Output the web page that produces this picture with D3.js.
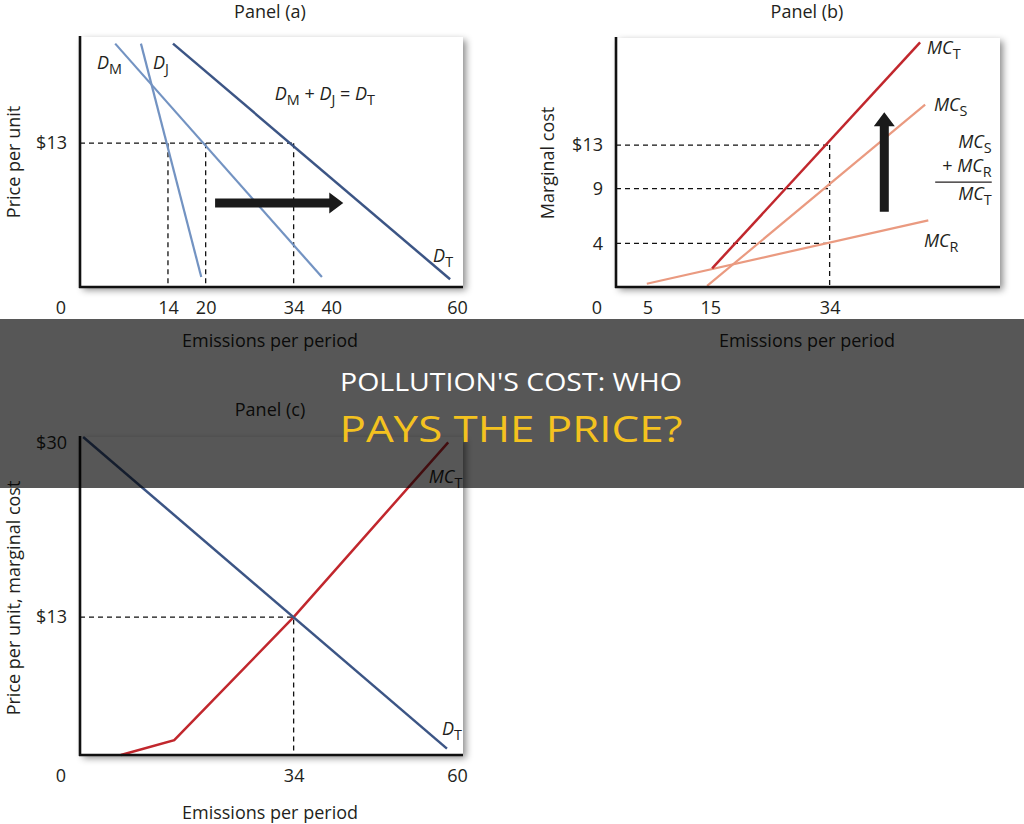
<!DOCTYPE html>
<html>
<head>
<meta charset="utf-8">
<script src="https://cdn.jsdelivr.net/npm/d3@7"></script>
<style>
  body { margin: 0; background: #fff; }
  svg text { font-family: "Open Sans", "Noto Sans", sans-serif; fill: #231f20; }
  .tick text { font-size: 18px; }
  .lbl { font-size: 18px; }
</style>
</head>
<body>
<svg id="chart" width="1024" height="824"></svg>
<script>
// ---- data (Q = emissions, P = price / marginal cost) ----
// panel (a): demand curves
const demandM = [[5.6, 22.0], [38.5, 0.9]];
const demandJ = [[9.7, 22.0], [19.3, 0.9]];
const demandTa = [[14.8, 22.0], [58.9, 0.7]];
const xTicksA = [0, 14, 20, 34, 40, 60];
const yTicksA = [13];
const yLabelsA = ["$13"];
const guideQsA = [14, 20, 34];
const guidePA = 13;
const shiftArrowA = [[21.5, 7.6], [41.9, 7.6]];

// panel (b): marginal cost curves
const mcS = [[14.5, 0.1], [49.2, 16.7]];
const mcR = [[4.9, 0.3], [49.7, 6.1]];
const mcTb = [[15.3, 1.7], [48.4, 22.4]];
const xTicksB = [0, 5, 15, 34];
const yTicksB = [4, 9, 13];
const yLabelsB = ["4", "9", "$13"];
const guideQB = 34;
const guidePsB = [4, 9, 13];
const shiftArrowB = [[42.7, 6.9], [42.7, 16.0]];

// panel (c): equilibrium
const demandTc = [[0.5, 30], [58.4, 0.6]];
const mcTc = [[6.5, 0], [15, 1.4], [34, 13], [58.6, 29.5]];
const xTicksC = [0, 34, 60];
const yTicksC = [13, 30];
const yLabelsC = ["$13", "$30"];
const eqC = [34, 13];

const lightBlue = "#7393c2", darkBlue = "#3c5585", darkRed = "#c1272d", salmon = "#ea9a80";

const svg = d3.select("#chart");
const defs = svg.append("defs");
const f = defs.append("filter").attr("id", "shadow")
  .attr("x", "-5%").attr("y", "-5%").attr("width", "115%").attr("height", "115%");
f.append("feDropShadow").attr("dx", 3).attr("dy", 3).attr("stdDeviation", 3.5)
  .attr("flood-color", "#000").attr("flood-opacity", 0.45);

const line = (x, y) => d3.line().x(d => x(d[0])).y(d => y(d[1]));

// label with italic letters and upright subscripts
function richLabel(g, x, y, parts, anchor) {
  const t = g.append("text").attr("class", "lbl").attr("x", x).attr("y", y)
    .attr("text-anchor", anchor || "start");
  let low = false;
  parts.forEach(([s, kind]) => {
    const ts = t.append("tspan").text(s);
    if (kind === "sub") {
      ts.attr("font-size", "0.8em").attr("font-style", "normal");
      if (!low) { ts.attr("dy", 5); low = true; }
    } else {
      if (low) { ts.attr("dy", -5); low = false; }
      ts.attr("font-style", kind === "it" ? "italic" : "normal");
    }
  });
  return t;
}

function panel(opt) {
  const { x, y } = opt;
  const g = svg.append("g");
  const [x0, x1] = [opt.box[0], opt.box[2]];
  const [y0, y1] = [opt.box[1], opt.box[3]];

  // white plot box with drop shadow
  g.append("rect").attr("x", x0).attr("y", y0).attr("width", x1 - x0).attr("height", y1 - y0)
    .attr("fill", "#fff").attr("filter", "url(#shadow)");

  // title + axis titles
  g.append("text").attr("x", opt.titleX).attr("y", opt.titleY).attr("text-anchor", "middle")
    .attr("font-size", 18).text(opt.title);
  g.append("text").attr("x", opt.titleX).attr("y", opt.xTitleY).attr("text-anchor", "middle")
    .attr("font-size", 18).text("Emissions per period");
  g.append("text").attr("transform", `translate(${opt.yTitleX},${opt.yTitleY}) rotate(-90)`)
    .attr("text-anchor", "middle").attr("font-size", 18).text(opt.yTitle);

  // x axis tick labels
  const xa = g.append("g").attr("transform", `translate(0,${y1})`)
    .call(d3.axisBottom(x).tickValues(opt.xTicks).tickSize(0).tickPadding(14).tickFormat(d3.format("d")));
  xa.select(".domain").remove();
  xa.selectAll(".tick").filter(d => d === 0).attr("transform", `translate(${x(0) - 19},0)`);
  xa.selectAll("text").attr("font-family", null);

  // y axis tick labels
  const ya = g.append("g").attr("transform", `translate(${x0},0)`)
    .call(d3.axisLeft(y).tickValues(opt.yTicks).tickSize(0).tickPadding(13)
      .tickFormat((d, i) => opt.yLabels[i]));
  ya.select(".domain").remove();
  ya.selectAll("text").attr("font-family", null);
  if (opt.topTickDy) ya.selectAll(".tick").filter(d => d === d3.max(opt.yTicks))
    .select("text").attr("dy", opt.topTickDy);

  g.append("g").attr("class", "guides");
  g.append("g").attr("class", "curves");

  // axes lines
  g.append("line").attr("x1", x0).attr("x2", x0).attr("y1", y0 - 1).attr("y2", y1 + 1)
    .attr("stroke", "#111").attr("stroke-width", 2.6);
  g.append("line").attr("x1", x0 - 1).attr("x2", x1).attr("y1", y1).attr("y2", y1)
    .attr("stroke", "#111").attr("stroke-width", 2.6);
  return g;
}

function dashed(g, pts, x, y) {
  g.select(".guides").append("path").attr("d", line(x, y)(pts))
    .attr("fill", "none").attr("stroke", "#111").attr("stroke-width", 1.3)
    .attr("stroke-dasharray", "5,4");
}
function curve(g, pts, x, y, color, w) {
  g.select(".curves").append("path").attr("d", line(x, y)(pts))
    .attr("fill", "none").attr("stroke", color).attr("stroke-width", w);
}
// thick block arrow from p0 to p1 (screen coords)
function blockArrow(g, p0, p1) {
  const dx = p1[0] - p0[0], dy = p1[1] - p0[1];
  const len = Math.hypot(dx, dy), ang = Math.atan2(dy, dx) * 180 / Math.PI;
  const sw = 4.5, hw = 10.5, hl = 14;
  const pts = [[0, -sw], [len - hl, -sw], [len - hl, -hw], [len, 0], [len - hl, hw], [len - hl, sw], [0, sw]];
  g.append("polygon").attr("points", pts.map(p => p.join(",")).join(" "))
    .attr("fill", "#1a1a1a").attr("transform", `translate(${p0[0]},${p0[1]}) rotate(${ang})`);
}
const toPx = (pts, x, y) => pts.map(p => [x(p[0]), y(p[1])]);

// ---------- Panel (a) ----------
{
  const x = d3.scaleLinear().domain([0, 60]).range([80, 457]);
  const y = d3.scaleLinear().domain([0, 22.6]).range([287, 37]);
  const g = panel({ x, y, box: [80, 37, 463, 287], title: "Panel (a)", titleX: 270, titleY: 18,
    xTitleY: 347, yTitle: "Price per unit", yTitleX: 20, yTitleY: 162,
    xTicks: xTicksA, yTicks: yTicksA, yLabels: yLabelsA });
  dashed(g, [[0, guidePA], [d3.max(guideQsA), guidePA]], x, y);
  guideQsA.forEach(q => dashed(g, [[q, guidePA], [q, 0]], x, y));
  curve(g, demandM, x, y, lightBlue, 2.2);
  curve(g, demandJ, x, y, lightBlue, 2.2);
  curve(g, demandTa, x, y, darkBlue, 2.5);
  blockArrow(g, ...toPx(shiftArrowA, x, y));
  richLabel(g, x(2.7), y(19.7), [["D", "it"], ["M", "sub"]]);
  richLabel(g, x(11.6), y(19.7), [["D", "it"], ["J", "sub"]]);
  richLabel(g, x(31.0), y(16.9), [["D", "it"], ["M", "sub"], [" + ", ""], ["D", "it"], ["J", "sub"], [" = ", ""], ["D", "it"], ["T", "sub"]]);
  richLabel(g, x(56.2), y(2.3), [["D", "it"], ["T", "sub"]]);
}

// ---------- Panel (b) ----------
{
  const x = d3.scaleLinear().domain([0, 60]).range([616, 993]);
  const y = d3.scaleLinear().domain([0, 22.8]).range([287, 38]);
  const g = panel({ x, y, box: [616, 38, 1000, 287], title: "Panel (b)", titleX: 807, titleY: 18,
    xTitleY: 347, yTitle: "Marginal cost", yTitleX: 554, yTitleY: 163,
    xTicks: xTicksB, yTicks: yTicksB, yLabels: yLabelsB });
  guidePsB.forEach(p => dashed(g, [[0, p], [guideQB, p]], x, y));
  dashed(g, [[guideQB, d3.max(guidePsB)], [guideQB, 0]], x, y);
  curve(g, mcR, x, y, salmon, 2.2);
  curve(g, mcS, x, y, salmon, 2.2);
  curve(g, mcTb, x, y, darkRed, 2.5);
  blockArrow(g, ...toPx(shiftArrowB, x, y));
  richLabel(g, x(49.5), y(21.3), [["MC", "it"], ["T", "sub"]]);
  richLabel(g, x(50.6), y(16.1), [["MC", "it"], ["S", "sub"]]);
  richLabel(g, x(59.8), y(12.7), [["MC", "it"], ["S", "sub"]], "end");
  richLabel(g, x(59.8), y(10.5), [["+ ", ""], ["MC", "it"], ["R", "sub"]], "end");
  g.append("line").attr("x1", x(50.8)).attr("x2", x(59.8)).attr("y1", y(9.6)).attr("y2", y(9.6))
    .attr("stroke", "#231f20").attr("stroke-width", 1.3);
  richLabel(g, x(59.8), y(8.0), [["MC", "it"], ["T", "sub"]], "end");
  richLabel(g, x(49.0), y(3.7), [["MC", "it"], ["R", "sub"]]);
}

// ---------- Panel (c) ----------
{
  const x = d3.scaleLinear().domain([0, 60]).range([80, 457]);
  const y = d3.scaleLinear().domain([0, 30]).range([755, 437]);
  const g = panel({ x, y, box: [80, 437, 463, 755], title: "Panel (c)", titleX: 270, titleY: 416,
    xTitleY: 819, yTitle: "Price per unit, marginal cost", yTitleX: 20, yTitleY: 598,
    xTicks: xTicksC, yTicks: yTicksC, yLabels: yLabelsC, topTickDy: "0.62em" });
  dashed(g, [[0, eqC[1]], eqC, [eqC[0], 0]], x, y);
  curve(g, mcTc, x, y, darkRed, 2.5);
  curve(g, demandTc, x, y, darkBlue, 2.5);
  richLabel(g, x(55.5), y(25.7), [["MC", "it"], ["T", "sub"]]);
  richLabel(g, x(57.6), y(1.9), [["D", "it"], ["T", "sub"]]);
}

// ---------- headline banner ----------
svg.append("rect").attr("x", 0).attr("y", 319).attr("width", 1024).attr("height", 169)
  .attr("fill", "#000").attr("fill-opacity", 0.66);
svg.append("text").attr("x", 511).attr("y", 391).attr("text-anchor", "middle")
  .attr("font-family", "Roboto, 'Liberation Sans', sans-serif").attr("font-size", 26)
  .attr("textLength", 342).attr("lengthAdjust", "spacingAndGlyphs")
  .style("fill", "#fff").text("POLLUTION'S COST: WHO");
svg.append("text").attr("x", 511).attr("y", 442).attr("text-anchor", "middle")
  .attr("font-family", "Roboto, 'Liberation Sans', sans-serif").attr("font-size", 36)
  .attr("textLength", 343).attr("lengthAdjust", "spacingAndGlyphs")
  .style("fill", "#f4c21f").text("PAYS THE PRICE?");
</script>
</body>
</html>
